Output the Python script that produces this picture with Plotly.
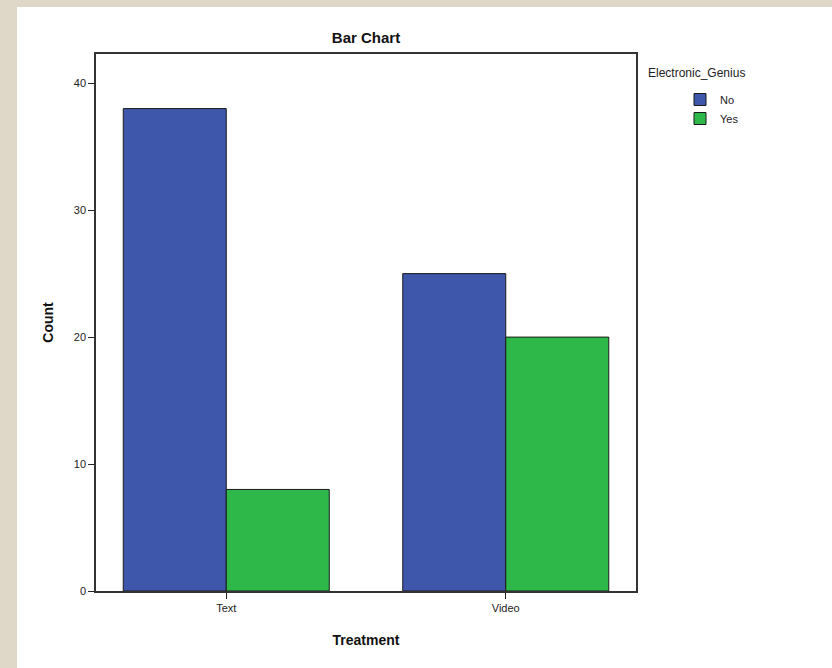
import plotly.graph_objects as go

categories = ["Text", "Video"]
no_counts = [38, 25]
yes_counts = [8, 20]
series_names = ["No", "Yes"]
legend_title = "Electronic_Genius"
y_ticks = [0, 10, 20, 30, 40]

FONT = "Arial, Liberation Sans, sans-serif"
W, H = 832, 668
L, R, T, B = 96, 196, 54, 77
pw, ph = W - L - R, H - T - B

fig = go.Figure()
fig.add_trace(go.Bar(x=categories, y=no_counts, name=series_names[0],
                     marker=dict(color="#3E57AB", line=dict(color="#1a1a1a", width=1))))
fig.add_trace(go.Bar(x=categories, y=yes_counts, name=series_names[1],
                     marker=dict(color="#2EB84A", line=dict(color="#1a1a1a", width=1))))

# white panel over beige border
fig.add_shape(type="rect", xref="paper", yref="paper",
              x0=(17 - L) / pw, x1=(W - L + 5) / pw,
              y0=-(B + 5) / ph, y1=1 + (T - 7) / ph,
              fillcolor="white", line=dict(width=0), layer="below")

fig.add_annotation(text=legend_title, xref="paper", yref="paper",
                   x=(646 - L) / pw, xanchor="left", y=1 - (73 - T) / ph, yanchor="middle",
                   showarrow=False, font=dict(family=FONT, size=12, color="#222"))

fig.update_layout(
    width=W, height=H,
    margin=dict(l=L, r=R, t=T, b=B, pad=0),
    paper_bgcolor="#DFD7C7",
    plot_bgcolor="#F0F0F0",
    barmode="group", bargap=0.263, bargroupgap=0,
    font=dict(family=FONT, size=11, color="#222"),
    title=dict(text="<b>Bar Chart</b>", x=366 / W, xanchor="center",
               y=1 - 38 / H, yanchor="middle",
               font=dict(family=FONT, size=15, color="#111")),
    legend=dict(x=(680 - L) / pw, xanchor="left", y=1 - (85 - T) / ph, yanchor="top",
                bgcolor="rgba(0,0,0,0)",
                font=dict(size=11, color="#222"), tracegroupgap=0,
                itemwidth=30),
    showlegend=True,
)
fig.update_xaxes(range=[-0.466, 1.466], showline=True, linecolor="#333", linewidth=1.5,
                 mirror=True, ticks="outside", ticklen=6, tickcolor="#222",
                 showgrid=False,
                 title=dict(text="<b>Treatment</b>", font=dict(size=14, color="#111"), standoff=22))
fig.update_yaxes(range=[0, 42.3], tickvals=y_ticks, showline=True, linecolor="#333",
                 linewidth=1.5, mirror=True, ticks="outside", ticklen=6, tickcolor="#222",
                 showgrid=False, zeroline=False,
                 title=dict(text="<b>Count</b>", font=dict(size=14, color="#111"), standoff=17))

fig.write_html("out.html", config={"displayModeBar": False},
               post_script="document.body.style.margin='0';document.body.style.overflow='hidden';")
